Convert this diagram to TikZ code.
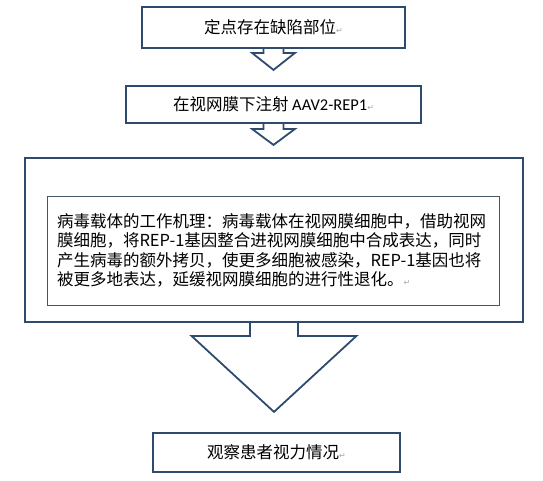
\documentclass[tikz,border=0pt]{standalone}
\usepackage{fontspec}
\newfontfamily\cjk{Noto Sans CJK SC}
\newfontfamily\latinfont{Carlito}
\newfontfamily\symfont{DejaVu Sans}
\definecolor{boxline}{RGB}{46,75,110}
\definecolor{innerline}{RGB}{70,86,104}
\newcommand{\pmark}{{\symfont\fontsize{8}{8}\selectfont\color{gray!70}↵}}

\begin{document}
\begin{tikzpicture}[x=1pt,y=-1pt,
    flowbox/.style={draw=boxline,line width=1.8pt,fill=white,inner sep=0pt,font=\cjk\fontsize{16.5}{19.5}\selectfont},
    blockarrow/.style={draw=boxline,line width=1.8pt,line join=miter}]
    \useasboundingbox (0,0) rectangle (543,480);

    \node[flowbox,minimum width=263,minimum height=41] (b1) at (273.5,27.5) {定点存在缺陷部位\pmark};
    \node[flowbox,minimum width=295,minimum height=37] (b2) at (273.5,104.5) {在视网膜下注射 {\latinfont AAV2-REP1}\pmark};
    \node[flowbox,minimum width=498,minimum height=164] (mech) at (274,240) {};
    \node[flowbox,draw=innerline,line width=.8pt,minimum width=452,minimum height=109,text width=432,align=left] (work) at (273,250.5)
        {病毒载体的工作机理：病毒载体在视网膜细胞中，借助视网\\
         膜细胞，将REP-1基因整合进视网膜细胞中合成表达，同时\\
         产生病毒的额外拷贝，使更多细胞被感染，REP-1基因也将\\
         被更多地表达，延缓视网膜细胞的进行性退化。\pmark};
    \node[flowbox,minimum width=247,minimum height=39] (b4) at (276.5,452.5) {观察患者视力情况\pmark};

    % block arrows under b1, b2 and mech
    \foreach \a/\sw/\hw/\sl/\hl in {b1/10/21.5/4/17, b2/10/21.5/5/16, mech/24/82.5/13/76}
        \draw[blockarrow] ([xshift=-\sw]\a.south) -- ++(0,\sl) -- ++({\sw-\hw},0) -- ++(\hw,\hl)
            -- ++(\hw,-\hl) -- ++({\sw-\hw},0) -- ++(0,-\sl);
\end{tikzpicture}
\end{document}
